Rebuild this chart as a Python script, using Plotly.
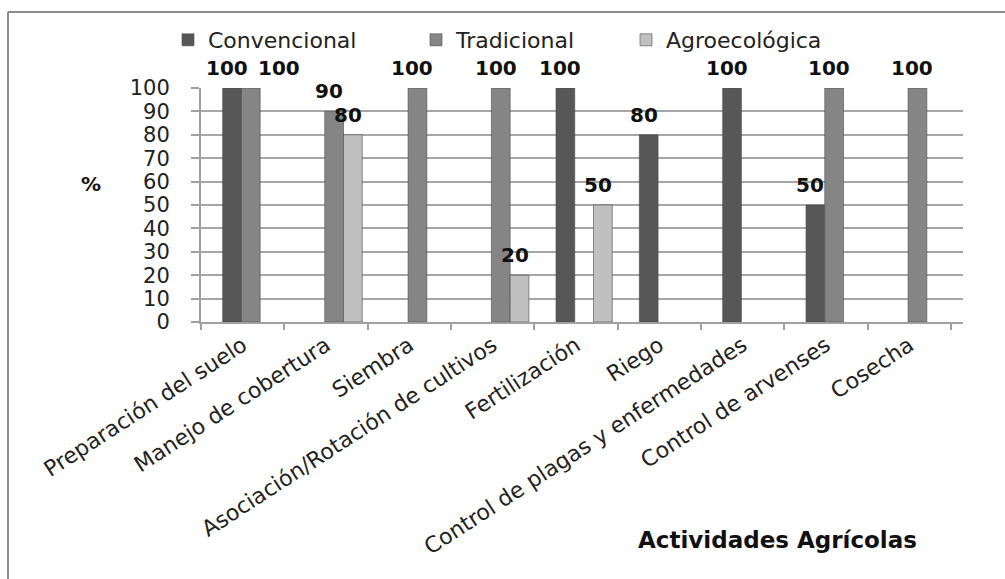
import plotly.graph_objects as go

categories = ["Preparación del suelo", "Manejo de cobertura", "Siembra",
              "Asociación/Rotación de cultivos", "Fertilización", "Riego",
              "Control de plagas y enfermedades", "Control de arvenses", "Cosecha"]
convencional = [100, None, None, None, 100, 80, 100, 50, None]
tradicional = [100, 90, 100, 100, None, None, None, 100, 100]
agroecologica = [None, 80, None, 20, 50, None, None, None, None]
y_ticks = [0, 10, 20, 30, 40, 50, 60, 70, 80, 90, 100]

W, H = 1005, 579
L, R, T, B = 201, 42, 88, 257
pw, ph = W - L - R, H - T - B

def px(x):
    return (x - L) / pw

def py(y):
    return (H - B - y) / ph

FONT = "DejaVu Sans"
series = [
    ("Convencional", convencional, "#575757", -0.24, "legend"),
    ("Tradicional", tradicional, "#858585", -0.015, "legend2"),
    ("Agroecológica", agroecologica, "#c0c0c0", 0.21, "legend3"),
]
BAR_W = 0.225

fig = go.Figure()
for name, vals, color, off, lg in series:
    fig.add_trace(go.Bar(
        x=categories, y=vals, name=name, offset=off, width=BAR_W,
        marker=dict(color=color, line=dict(color="#4a4a4a", width=0.6)),
        legend=lg,
    ))

# data labels
label_nudge = {("Tradicional", 0): 33}
annotations = []
for name, vals, color, off, lg in series:
    for i, v in enumerate(vals):
        if v is None:
            continue
        annotations.append(dict(
            x=i + off + BAR_W / 2, y=v, xref="x", yref="y", text=str(v),
            showarrow=False, yanchor="bottom", xanchor="center", yshift=6,
            xshift=-5 + label_nudge.get((name, i), 0),
            font=dict(family=FONT, size=20, color="#111111", weight="bold"),
        ))

annotations.append(dict(x=px(91), y=py(184), xref="paper", yref="paper", text="%",
                        xanchor="center", yanchor="middle", showarrow=False,
                        font=dict(family=FONT, size=20, color="#111111", weight="bold")))
annotations.append(dict(x=px(777), y=py(540), xref="paper", yref="paper",
                        text="Actividades Agrícolas", showarrow=False,
                        xanchor="center", yanchor="middle",
                        font=dict(family=FONT, size=23, color="#111111", weight="bold")))

shapes = [
    dict(type="line", xref="paper", yref="paper", x0=px(8), x1=px(8), y0=py(12), y1=py(600),
         line=dict(color="#8a8a8a", width=2)),
    dict(type="line", xref="paper", yref="paper", x0=px(8), x1=px(1020), y0=py(12), y1=py(12),
         line=dict(color="#8a8a8a", width=2)),
]

legfont = dict(family=FONT, size=22, color="#222222")
def leg(xp):
    return dict(x=px(xp), y=py(40), xanchor="left", yanchor="middle", orientation="h",
                font=legfont, bgcolor="rgba(0,0,0,0)", itemwidth=30)

fig.update_layout(
    width=W, height=H,
    margin=dict(l=L, r=R, t=T, b=B),
    paper_bgcolor="white", plot_bgcolor="white",
    barmode="group",
    legend=leg(168), legend2=leg(416), legend3=leg(626),
    showlegend=True,
    xaxis=dict(type="category", categoryorder="array", categoryarray=categories,
               range=[-0.5, 8.644], tickangle=-33,
               tickfont=dict(family=FONT, size=22, color="#222222"),
               showline=True, linecolor="#a0a0a0", linewidth=2,
               ticks="outside", tickson="boundaries", ticklen=6, tickcolor="#a0a0a0",
               tickwidth=2, showgrid=False),
    yaxis=dict(range=[0, 100], tickvals=y_ticks,
               tickfont=dict(family=FONT, size=21, color="#222222"),
               showline=True, linecolor="#a0a0a0", linewidth=2,
               ticks="outside", ticklen=8, tickcolor="#a0a0a0", tickwidth=2,
               ticklabelstandoff=17,
               gridcolor="#a6a6a6", gridwidth=1.5, zeroline=False),
    annotations=annotations,
    shapes=shapes,
)

fig.write_html("out.html")
